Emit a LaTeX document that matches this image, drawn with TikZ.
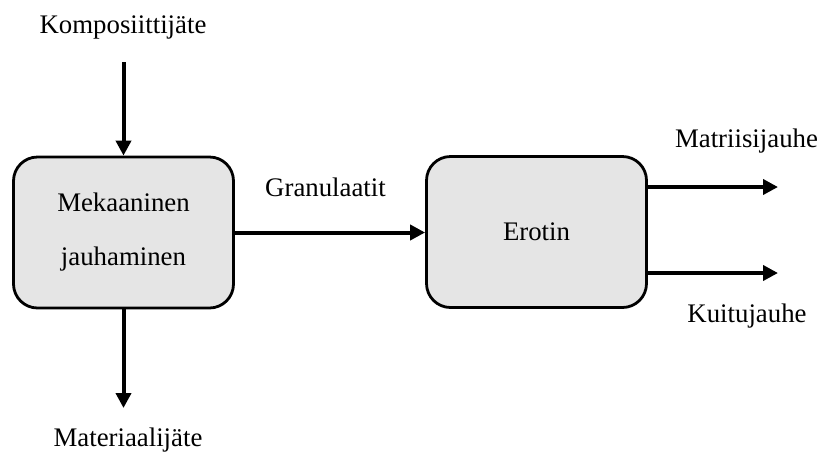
\documentclass[tikz,border=0pt]{standalone}
\usepackage{fontspec}
\setmainfont{Liberation Serif}
\usetikzlibrary{arrows.meta}
\begin{document}
\begin{tikzpicture}[x=0.5pt,y=-0.5pt,
  font=\fontsize{13.4}{26}\selectfont,
  process/.style={draw=black,line width=1.4pt,fill=black!10,rounded corners=12pt,
    minimum width=110pt,minimum height=75.5pt,inner sep=0pt,align=center},
  label/.style={inner sep=0pt,anchor=base},
  flow/.style={line width=2pt,-{Triangle[length=7.5pt,width=7.5pt]}}]
\useasboundingbox (0,0) rectangle (822,451);

% process blocks
\node[process] (mill) at (123.5,232.5) {Mekaaninen\\[1pt]jauhaminen};
\node[process] (sep) at (536.5,232) {Erotin};

% stream labels
\node[label] (inlab) at (123,33) {Komposiittijäte};
\node[label] (wastelab) at (128,446) {Materiaalijäte};
\node[label] (granlab) at (325.5,196) {Granulaatit};
\node[label] (matlab) at (746.5,147) {Matriisijauhe};
\node[label] (fiblab) at (747,322) {Kuitujauhe};

% free ends of the streams
\coordinate (in) at (123.5,62);
\coordinate (waste) at (123.5,408);
\coordinate (mat) at (778,187);
\coordinate (fib) at (778,273);

% streams
\draw[flow] (in) -- (mill.north);
\draw[flow] (mill.south) -- (waste);
\draw[flow] (mill.east) -- (mill.east -| sep.west);
\draw[flow] (sep.east |- mat) -- (mat);
\draw[flow] (sep.east |- fib) -- (fib);
\end{tikzpicture}
\end{document}
